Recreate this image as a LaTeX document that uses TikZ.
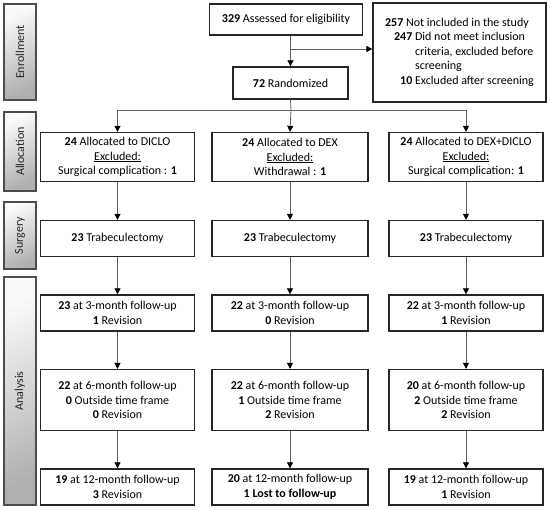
\documentclass[tikz,border=0pt]{standalone}
\usepackage{fontspec}
\setmainfont{Carlito}
\usetikzlibrary{arrows.meta,calc}
\begin{document}
\begin{tikzpicture}[x=1pt,y=-1pt,
  box/.style={draw=black!85, line width=1.3pt, fill=white, align=center, inner sep=2pt,
    font=\fontsize{12}{14.5}\selectfont, anchor=center},
  side/.style={draw=black!70, line width=1.3pt, top color=gray!4, bottom color=gray!62,
    shading angle=25, minimum width=32pt, anchor=center},
  sidetext/.style={rotate=90, font=\fontsize{12}{14.5}\selectfont, text=black!85, anchor=center},
  conn/.style={draw=gray!75!black, line width=0.8pt},
  arr/.style={conn, -{Triangle[length=6pt,width=6pt,color=black]}}]
\useasboundingbox (0,0) rectangle (550,510);

% side labels
\node[side, minimum height=96pt] (enr) at (20,52) {};
\node[sidetext] (enrt) at (enr) {Enrollment};
\node[side, minimum height=79pt] (all) at (20,151.5) {};
\node[sidetext] (allt) at (all) {Allocation};
\node[side, minimum height=67pt] (sur) at (20,235.5) {};
\node[sidetext] (surt) at (sur) {Surgery};
\node[side, minimum height=228pt] (ana) at (20,391) {};
\node[sidetext] (anat) at (ana) {Analysis};

% enrollment
\node[box, minimum width=153pt, minimum height=31pt] (assess) at (286,19.5) {\textbf{329} Assessed for eligibility};
\node[box, minimum width=115pt, minimum height=32pt] (rand) at (290.5,83) {\textbf{72} Randomized};
\node[box, minimum width=173pt, minimum height=99pt, align=left] (notinc) at (459.5,52.5)
  {\begin{tabular}{@{}r@{\ }l@{}}
   \multicolumn{2}{@{}l@{}}{\textbf{257} Not included in the study}\\
   \hspace*{9pt}\textbf{247} & Did not meet inclusion\\
    & criteria, excluded before\\
    & screening\\
   \textbf{10} & Excluded after screening
   \end{tabular}};

% allocation
\node[box, minimum width=154pt, minimum height=49pt] (alA) at (117.5,157) {\textbf{24} Allocated to DICLO\\\underline{Excluded:}\\Surgical complication : \textbf{1}};
\node[box, minimum width=156pt, minimum height=49pt] (alB) at (290,157) {\textbf{24} Allocated to DEX\\\underline{Excluded:}\\Withdrawal : \textbf{1}};
\node[box, minimum width=154pt, minimum height=49pt] (alC) at (466,157) {\textbf{24} Allocated to DEX+DICLO\\\underline{Excluded:}\\Surgical complication: \textbf{1}};

% surgery
\node[box, minimum width=154pt, minimum height=36pt] (suA) at (117.5,238.5) {\textbf{23} Trabeculectomy};
\node[box, minimum width=156pt, minimum height=36pt] (suB) at (290,238.5) {\textbf{23} Trabeculectomy};
\node[box, minimum width=154pt, minimum height=36pt] (suC) at (466,238.5) {\textbf{23} Trabeculectomy};

% 3 months
\node[box, minimum width=154pt, minimum height=36pt] (mA3) at (117.5,313) {\textbf{23} at 3-month follow-up\\\textbf{1} Revision};
\node[box, minimum width=156pt, minimum height=36pt] (mB3) at (290,313) {\textbf{22} at 3-month follow-up\\\textbf{0} Revision};
\node[box, minimum width=154pt, minimum height=36pt] (mC3) at (466,313) {\textbf{22} at 3-month follow-up\\\textbf{1} Revision};

% 6 months
\node[box, minimum width=154pt, minimum height=61pt] (mA6) at (117.5,400) {\textbf{22} at 6-month follow-up\\\textbf{0} Outside time frame\\\textbf{0} Revision};
\node[box, minimum width=156pt, minimum height=61pt] (mB6) at (290,400) {\textbf{22} at 6-month follow-up\\\textbf{1} Outside time frame\\\textbf{2} Revision};
\node[box, minimum width=154pt, minimum height=61pt] (mC6) at (466,400) {\textbf{20} at 6-month follow-up\\\textbf{2} Outside time frame\\\textbf{2} Revision};

% 12 months
\node[box, minimum width=154pt, minimum height=36pt] (mA12) at (117.5,487) {\textbf{19} at 12-month follow-up\\\textbf{3} Revision};
\node[box, minimum width=156pt, minimum height=36pt] (mB12) at (290,487) {\textbf{20} at 12-month follow-up\\\textbf{1 Lost to follow-up}};
\node[box, minimum width=154pt, minimum height=36pt] (mC12) at (466,487) {\textbf{19} at 12-month follow-up\\\textbf{1} Revision};

% connectors
\coordinate (br) at (291,49);
\coordinate (split) at (291,110);
\draw[arr] (assess.south -| rand.north) -- (rand.north);
\draw[arr] (br) -- (br -| notinc.west);
\draw[conn] (rand.south) -- (split);
\draw[arr] (split) -| (alA.north);
\draw[arr] (split) -- (alB.north);
\draw[arr] (split) -| (alC.north);

\foreach \c in {A,B,C}{
  \draw[arr] (al\c.south) -- (su\c.north);
  \draw[arr] (su\c.south) -- (m\c3.north);
  \draw[arr] (m\c3.south) -- (m\c6.north);
  \draw[arr] (m\c6.south) -- (m\c12.north);
}
\end{tikzpicture}
\end{document}
